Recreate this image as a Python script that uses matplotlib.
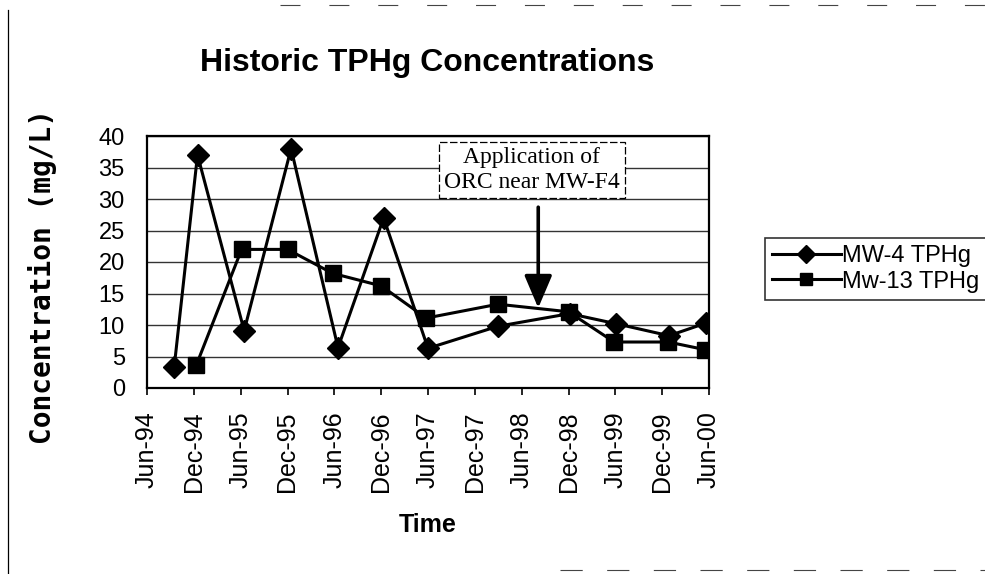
import matplotlib
matplotlib.use("Agg")
import matplotlib.pyplot as plt
import matplotlib.dates as mdates
from matplotlib.lines import Line2D
import datetime as dt

# ---- data ----
mw4_dates = ["1994-09-15", "1994-12-15", "1995-06-15", "1995-12-15", "1996-06-15",
             "1996-12-10", "1997-06-01", "1998-03-01", "1998-12-05", "1999-06-05",
             "1999-12-28", "2000-05-20"]
mw4_values = [3.3, 37.0, 9.1, 38.0, 6.4, 27.0, 6.3, 9.8, 11.8, 10.2, 8.3, 10.3]

mw13_dates = ["1994-12-10", "1995-06-05", "1995-12-01", "1996-05-25", "1996-12-01",
              "1997-05-25", "1998-03-01", "1998-12-01", "1999-05-28", "1999-12-25",
              "2000-05-15"]
mw13_values = [3.6, 22.0, 22.0, 18.2, 16.2, 11.1, 13.3, 12.1, 7.3, 7.3, 6.1]

series_names = ["MW-4 TPHg", "Mw-13 TPHg"]
tick_dates = ["1994-06-01", "1994-12-01", "1995-06-01", "1995-12-01", "1996-06-01",
              "1996-12-01", "1997-06-01", "1997-12-01", "1998-06-01", "1998-12-01",
              "1999-06-01", "1999-12-01", "2000-06-01"]
y_ticks = [0, 5, 10, 15, 20, 25, 30, 35, 40]
title = "Historic TPHg Concentrations"
xlabel = "Time"
ylabel = "Concentration (mg/L)"
note = "Application of\nORC near MW-F4"
note_date = "1998-08-05"
note_tip_value = 12.7
note_tail_value = 28.7


def to_dt(lst):
    return [dt.datetime.strptime(s, "%Y-%m-%d") for s in lst]


W, H = 985, 574
fig = plt.figure(figsize=(W / 100, H / 100), dpi=100)
fig.patch.set_facecolor("white")


def fx(px):
    return px / W


def fy(py):
    return 1 - py / H


left, right, top, bottom = 147, 709, 136, 388
ax = fig.add_axes([fx(left), fy(bottom), fx(right - left), (bottom - top) / H])

ax.plot(to_dt(mw4_dates), mw4_values, color="black", lw=2.2, marker="D",
        markersize=11, label=series_names[0], zorder=4)
ax.plot(to_dt(mw13_dates), mw13_values, color="black", lw=2.2, marker="s",
        markersize=11, label=series_names[1], zorder=4)

ticks = to_dt(tick_dates)
ax.set_xlim(ticks[0], ticks[-1])
ax.set_xticks(ticks)
ax.xaxis.set_major_formatter(mdates.DateFormatter("%b-%y"))
ax.set_ylim(0, 40)
ax.set_yticks(y_ticks)
ax.grid(axis="y", color="#333333", lw=1.0)
ax.set_axisbelow(True)
for s in ax.spines.values():
    s.set_linewidth(1.6)
    s.set_color("black")

for lab in ax.get_xticklabels():
    lab.set_rotation(90)
    lab.set_fontfamily("Liberation Sans")
    lab.set_fontsize(18)
for lab in ax.get_yticklabels():
    lab.set_fontfamily("Liberation Sans")
    lab.set_fontsize(17)
ax.tick_params(axis="x", direction="out", length=5, width=1.2, pad=12)
ax.tick_params(axis="y", length=0, pad=16)

fig.text(fx(428), fy(525), xlabel, ha="center", va="center", fontsize=18,
         fontweight="bold", family="Liberation Sans")
fig.text(fx(43), fy(277), ylabel, ha="center", va="center", rotation=90,
         fontsize=20, fontweight="bold", family="DejaVu Sans Mono")
fig.text(fx(200), fy(71), title, ha="left", va="baseline", fontsize=23,
         fontweight="bold", family="Liberation Sans")

# annotation
nd = dt.datetime.strptime(note_date, "%Y-%m-%d")
ax.annotate("", xy=(nd, note_tip_value), xytext=(nd, note_tail_value),
            arrowprops=dict(arrowstyle="-|>,head_length=2.0,head_width=0.85",
                            color="black", lw=2.6, shrinkA=0, shrinkB=0),
            zorder=5)
ax.text(dt.datetime(1998, 7, 10), 34.6, note, ha="center", va="center",
        fontsize=17, family="Liberation Serif", linespacing=1.2,
        bbox=dict(boxstyle="square,pad=0.22", facecolor="white",
                  edgecolor="black", lw=0.9, linestyle=(0, (6, 2))), zorder=6)

leg = fig.legend(loc="upper left", bbox_to_anchor=(fx(765), fy(238)),
                 frameon=True, fancybox=False, edgecolor="black",
                 prop={"family": "Liberation Sans", "size": 17},
                 handlelength=2.9, handletextpad=0.05, borderpad=0.3,
                 labelspacing=0.15, borderaxespad=0, markerscale=0.85)
leg.get_frame().set_linewidth(1.2)

# page border / scan artefacts
fig.add_artist(Line2D([fx(8), fx(8)], [fy(10), fy(574)], color="black", lw=0.9))
fig.add_artist(Line2D([fx(280), fx(985)], [fy(5), fy(5)], color="#444444", lw=0.8,
                      linestyle=(0, (18, 26))))
fig.add_artist(Line2D([fx(560), fx(985)], [fy(570), fy(570)], color="#444444", lw=0.8,
                      linestyle=(0, (20, 22))))

fig.savefig("out.png", dpi=100, facecolor="white")
